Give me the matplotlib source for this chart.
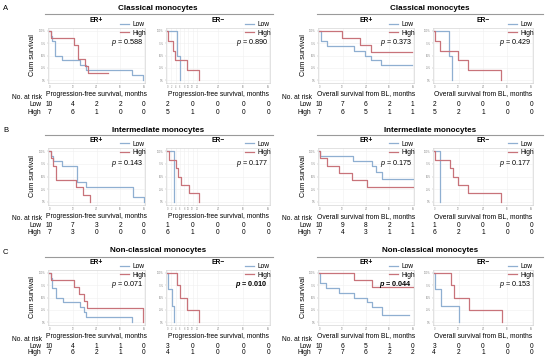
import numpy as np
import matplotlib.pyplot as plt
from matplotlib.lines import Line2D
from matplotlib import transforms

plt.rcParams['font.family'] = ['Liberation Sans', 'DejaVu Sans']
plt.rcParams['mathtext.fontset'] = 'custom'
plt.rcParams['mathtext.it'] = 'Liberation Sans:italic'
plt.rcParams['mathtext.rm'] = 'Liberation Sans'
plt.rcParams['mathtext.bf'] = 'Liberation Sans:bold'
plt.rcParams['mathtext.bfit'] = 'Liberation Sans:italic:bold'

# --- survival curves (months, cumulative survival) ---
# A: classical monocytes
a_pfs_pos_low_t = [0, 0.8, 1.5, 3.0, 6.3, 15.5, 18.5, 42.2, 47.5]
a_pfs_pos_low_s = [1.0, 0.9, 0.8, 0.5, 0.4, 0.3, 0.2, 0.1, 0.0]
a_pfs_pos_high_t = [0, 0.8, 12.4, 14.6, 18.2, 19.9, 29.8]
a_pfs_pos_high_s = [1.0, 0.857, 0.714, 0.429, 0.286, 0.143, 0.143]
a_pfs_neg_low_t = [0, 4.7, 5.8]
a_pfs_neg_low_s = [1.0, 0.5, 0.0]
a_pfs_neg_high_t = [0, 0.5, 2.7, 3.5, 9.4, 15.0]
a_pfs_neg_high_s = [1.0, 0.8, 0.6, 0.4, 0.2, 0.0]
a_os_pos_low_t = [0, 1.0, 4.0, 17.7, 23.4, 26.4, 31.6, 47.5]
a_os_pos_low_s = [1.0, 0.8, 0.7, 0.6, 0.5, 0.4, 0.3, 0.3]
a_os_pos_high_t = [0, 11.5, 21.0, 26.4, 47.5]
a_os_pos_high_s = [1.0, 0.857, 0.714, 0.571, 0.571]
a_os_neg_low_t = [0, 7.5, 8.6]
a_os_neg_low_s = [1.0, 0.5, 0.0]
a_os_neg_high_t = [0, 0.6, 2.7, 11.8, 16.6, 33.0]
a_os_neg_high_s = [1.0, 0.8, 0.6, 0.4, 0.2, 0.0]

# B: intermediate monocytes
b_pfs_pos_low_t = [0, 1.0, 2.0, 6.5, 14.2, 18.5, 42.5, 48.0]
b_pfs_pos_low_s = [1.0, 0.9, 0.8, 0.7, 0.4, 0.3, 0.1, 0.0]
b_pfs_pos_high_t = [0, 0.8, 1.7, 3.5, 13.6, 17.0, 20.8]
b_pfs_pos_high_s = [1.0, 0.857, 0.714, 0.429, 0.286, 0.143, 0.0]
b_pfs_neg_low_t = [0, 3.0]
b_pfs_neg_low_s = [1.0, 0.0]
b_pfs_neg_high_t = [0, 0.8, 3.9, 5.3, 6.6, 10.5, 15.2]
b_pfs_neg_high_s = [1.0, 0.833, 0.667, 0.5, 0.333, 0.167, 0.0]
b_os_pos_low_t = [0, 0.5, 17.5, 27.0, 29.0, 32.0, 48.0]
b_os_pos_low_s = [1.0, 0.9, 0.8, 0.7, 0.58, 0.45, 0.45]
b_os_pos_high_t = [0, 0.5, 4.2, 10.0, 16.8, 24.4, 48.0]
b_os_pos_high_s = [1.0, 0.857, 0.714, 0.571, 0.429, 0.286, 0.286]
b_os_neg_low_t = [0, 2.7]
b_os_neg_low_s = [1.0, 0.0]
b_os_neg_high_t = [0, 0.6, 8.0, 9.1, 11.8, 16.6, 33.1]
b_os_neg_high_s = [1.0, 0.833, 0.667, 0.5, 0.333, 0.167, 0.0]

# C: non-classical monocytes
c_pfs_pos_low_t = [0, 0.8, 1.5, 3.5, 7.0, 15.5, 17.5, 18.7, 42.0]
c_pfs_pos_low_s = [1.0, 0.9, 0.7, 0.5, 0.4, 0.3, 0.2, 0.1, 0.0]
c_pfs_pos_high_t = [0, 0.8, 12.4, 15.2, 17.7, 19.0, 47.8]
c_pfs_pos_high_s = [1.0, 0.857, 0.714, 0.571, 0.429, 0.286, 0.0]
c_pfs_neg_low_t = [0, 0.5, 2.4, 3.1]
c_pfs_neg_low_s = [1.0, 0.667, 0.333, 0.0]
c_pfs_neg_high_t = [0, 4.7, 5.8, 9.4, 15.0]
c_pfs_neg_high_s = [1.0, 0.75, 0.5, 0.25, 0.0]
c_os_pos_low_t = [0, 0.5, 3.4, 10.0, 17.7, 24.4, 27.0, 32.0, 46.0]
c_os_pos_low_s = [1.0, 0.8, 0.7, 0.6, 0.5, 0.4, 0.3, 0.15, 0.15]
c_os_pos_high_t = [0, 17.7, 27.0, 48.0]
c_os_pos_high_s = [1.0, 0.857, 0.714, 0.714]
c_os_neg_low_t = [0, 0.6, 3.2, 12.2]
c_os_neg_low_s = [1.0, 0.667, 0.333, 0.0]
c_os_neg_high_t = [0, 8.3, 9.5, 17.3, 33.2]
c_os_neg_high_s = [1.0, 0.75, 0.5, 0.25, 0.0]

# --- numbers at risk at 0, 12, 24, 36, 48 months ---
risk_months = [0, 12, 24, 36, 48]
a_pfs_pos_risk = ([10, 4, 2, 2, 0], [7, 6, 1, 0, 0])
a_pfs_neg_risk = ([2, 0, 0, 0, 0], [5, 1, 0, 0, 0])
a_os_pos_risk = ([10, 7, 6, 2, 1], [7, 6, 5, 1, 1])
a_os_neg_risk = ([2, 0, 0, 0, 0], [5, 2, 1, 0, 0])
b_pfs_pos_risk = ([10, 7, 3, 2, 0], [7, 3, 0, 0, 0])
b_pfs_neg_risk = ([1, 0, 0, 0, 0], [6, 1, 0, 0, 0])
b_os_pos_risk = ([10, 9, 8, 2, 1], [7, 4, 3, 1, 1])
b_os_neg_risk = ([1, 0, 0, 0, 0], [6, 2, 1, 0, 0])
c_pfs_pos_risk = ([10, 4, 1, 1, 0], [7, 6, 2, 1, 0])
c_pfs_neg_risk = ([3, 0, 0, 0, 0], [4, 1, 0, 0, 0])
c_os_pos_risk = ([10, 6, 5, 1, 0], [7, 7, 6, 2, 2])
c_os_neg_risk = ([3, 0, 0, 0, 0], [4, 2, 1, 0, 0])

p_values = [['0.588', '0.890', '0.373', '0.429'],
            ['0.143', '0.177', '0.175', '0.177'],
            ['0.071', '0.010', '0.044', '0.153']]
p_bold = [[False, False, False, False],
          [False, False, False, False],
          [False, True, True, False]]
row_titles = ['Classical monocytes', 'Intermediate monocytes', 'Non-classical monocytes']
row_letters = ['A', 'B', 'C']
er_labels = ['ER+', 'ER\u2212', 'ER+', 'ER\u2212']
x_labels = ['Progression-free survival, months', 'Progression-free survival, months',
            'Overall survival from BL, months', 'Overall survival from BL, months']
ticks_main = [0, 12, 24, 36, 48]
ticks_pfs_neg = [0, 2, 4, 6, 8, 10, 12, 14, 24, 36, 48]
surv_ticks = [0, 0.25, 0.5, 0.75, 1.0]
surv_tick_labels = ['0%', '25%', '50%', '75%', '100%']

curves = [
    [(a_pfs_pos_low_t, a_pfs_pos_low_s, a_pfs_pos_high_t, a_pfs_pos_high_s, a_pfs_pos_risk),
     (a_pfs_neg_low_t, a_pfs_neg_low_s, a_pfs_neg_high_t, a_pfs_neg_high_s, a_pfs_neg_risk),
     (a_os_pos_low_t, a_os_pos_low_s, a_os_pos_high_t, a_os_pos_high_s, a_os_pos_risk),
     (a_os_neg_low_t, a_os_neg_low_s, a_os_neg_high_t, a_os_neg_high_s, a_os_neg_risk)],
    [(b_pfs_pos_low_t, b_pfs_pos_low_s, b_pfs_pos_high_t, b_pfs_pos_high_s, b_pfs_pos_risk),
     (b_pfs_neg_low_t, b_pfs_neg_low_s, b_pfs_neg_high_t, b_pfs_neg_high_s, b_pfs_neg_risk),
     (b_os_pos_low_t, b_os_pos_low_s, b_os_pos_high_t, b_os_pos_high_s, b_os_pos_risk),
     (b_os_neg_low_t, b_os_neg_low_s, b_os_neg_high_t, b_os_neg_high_s, b_os_neg_risk)],
    [(c_pfs_pos_low_t, c_pfs_pos_low_s, c_pfs_pos_high_t, c_pfs_pos_high_s, c_pfs_pos_risk),
     (c_pfs_neg_low_t, c_pfs_neg_low_s, c_pfs_neg_high_t, c_pfs_neg_high_s, c_pfs_neg_risk),
     (c_os_pos_low_t, c_os_pos_low_s, c_os_pos_high_t, c_os_pos_high_s, c_os_pos_risk),
     (c_os_neg_low_t, c_os_neg_low_s, c_os_neg_high_t, c_os_neg_high_s, c_os_neg_risk)],
]

LOW_C = '#8fafd1'
HIGH_C = '#c8737a'
W, H = 550, 363

fig = plt.figure(figsize=(5.5, 3.63), dpi=100)


def fx(x):
    return x / W


def fy(y):
    return 1 - y / H


# layout in pixels
col_x = [(48, 145), (166, 270), (318, 414), (433, 533)]
row_axes_y = [(28, 83), (148, 205), (270, 325)]
row_title_y = [8, 130, 251]
row_line_y = [14, 135, 256.5]
row_risk_y = [(97.5, 104.5, 112), (218.5, 225, 232), (339.5, 346, 353)]
half_title_x = [158, 430]
half_line_x = [(45, 273), (317, 543)]
half_label_x = [41, 311]

for r in range(3):
    y0, y1 = row_axes_y[r]
    fig.text(fx(3), fy(row_title_y[r] + 1), row_letters[r], fontsize=5.5, ha='left', va='center')
    for h in range(2):
        fig.text(fx(half_title_x[h]), fy(row_title_y[r]), row_titles[r], fontsize=5.8,
                 fontweight='bold', ha='center', va='center')
        lx0, lx1 = half_line_x[h]
        fig.add_artist(Line2D([fx(lx0), fx(lx1)], [fy(row_line_y[r])] * 2,
                              color='#9a9a9a', lw=0.8))
        ry = row_risk_y[r]
        fig.text(fx(half_label_x[h] + 1), fy(ry[0]), 'No. at risk', fontsize=4.8, ha='right', va='center')
        fig.text(fx(half_label_x[h]), fy(ry[1]), 'Low', fontsize=4.8, ha='right', va='center')
        fig.text(fx(half_label_x[h]), fy(ry[2]), 'High', fontsize=4.8, ha='right', va='center')

    for c in range(4):
        x0, x1 = col_x[c]
        ax = fig.add_axes([fx(x0), fy(y1), (x1 - x0) / W, (y1 - y0) / H])
        low_t, low_s, high_t, high_s, risk = curves[r][c]
        ax.step(low_t, low_s, where='post', color=LOW_C, lw=0.9, label='Low')
        ax.step(high_t, high_s, where='post', color=HIGH_C, lw=0.9, label='High')
        ax.set_xlim(-0.6, 48.6)
        ax.set_ylim(-0.06, 1.06)
        ticks = ticks_pfs_neg if c == 1 else ticks_main
        ax.set_xticks(ticks)
        ax.set_xticklabels([str(t) for t in ticks], fontsize=1.8, color='#888888')
        ax.set_yticks(surv_ticks)
        ax.set_yticklabels(surv_tick_labels, fontsize=1.8, color='#888888')
        ax.tick_params(length=1, width=0.3, pad=0.6, color='#aaaaaa')
        ax.grid(color='#efefef', lw=0.4)
        ax.set_axisbelow(True)
        for s in ax.spines.values():
            s.set_color('#d6d6d6')
            s.set_linewidth(0.5)

        ax.text(0.5, 1.13, er_labels[c], transform=ax.transAxes, ha='center', va='center',
                fontsize=4.8, fontweight='bold')
        ax.legend(loc='upper right', bbox_to_anchor=(1.01, 1.13), frameon=False, fontsize=4.8,
                  handlelength=1.3, handletextpad=0.5, borderpad=0, borderaxespad=0,
                  labelspacing=0.25)
        if p_bold[r][c]:
            ax.text(0.98, 0.73, r'$\mathbfit{p}$ = ' + p_values[r][c], transform=ax.transAxes,
                    ha='right', va='center', fontsize=5.2, fontweight='bold')
        else:
            ax.text(0.98, 0.73, r'$\mathit{p}$ = ' + p_values[r][c], transform=ax.transAxes,
                    ha='right', va='center', fontsize=5.2)
        ax.text(0.5, -0.2, x_labels[c], transform=ax.transAxes, ha='center', va='center',
                fontsize=4.9)
        if c % 2 == 0:
            ax.text(-0.155, 0.5, 'Cum survival', transform=ax.transAxes, rotation=90,
                    ha='center', va='center', fontsize=5.2)

        tr = transforms.blended_transform_factory(ax.transData, fig.transFigure)
        ry = row_risk_y[r]
        for m, nl, nh in zip(risk_months, risk[0], risk[1]):
            fig.text(m, fy(ry[1]), str(nl), transform=tr, fontsize=4.8, ha='center', va='center')
            fig.text(m, fy(ry[2]), str(nh), transform=tr, fontsize=4.8, ha='center', va='center')

fig.savefig('out.png', dpi=100)
